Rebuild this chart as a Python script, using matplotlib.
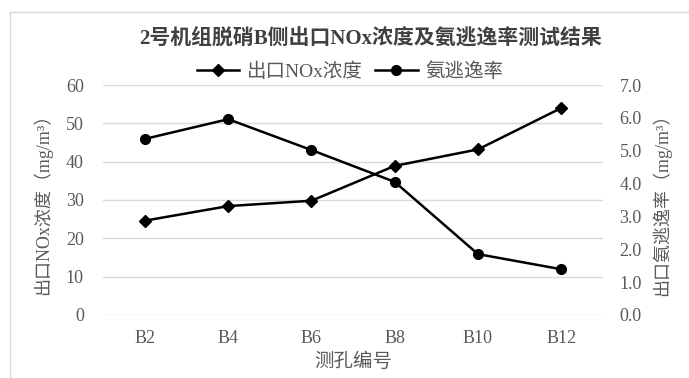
import matplotlib.pyplot as plt
from matplotlib.lines import Line2D

plt.rcParams['font.family'] = ['Liberation Serif', 'Noto Sans CJK SC', 'DejaVu Sans']

holes = ['B2', 'B4', 'B6', 'B8', 'B10', 'B12']
nox = [24.6, 28.4, 29.8, 38.9, 43.2, 54.0]
nh3_slip = [5.36, 5.96, 5.02, 4.05, 1.85, 1.39]
left_ticks = [0, 10, 20, 30, 40, 50, 60]
right_ticks = [0, 1, 2, 3, 4, 5, 6, 7]

grey = '#595959'

fig = plt.figure(figsize=(6.89, 3.78), dpi=100)
ax = fig.add_axes([0.150, 0.167, 0.725, 0.608])
ax2 = ax.twinx()

x = list(range(len(holes)))
l1, = ax.plot(x, nox, color='black', lw=1.8, marker='D', ms=6.5, label='出口NOx浓度')
l2, = ax2.plot(x, nh3_slip, color='black', lw=1.8, marker='o', ms=7, label='氨逃逸率')

ax.set_xlim(-0.5, len(holes) - 0.5)
ax.set_ylim(0, 60)
ax.set_yticks(left_ticks)
ax2.set_ylim(0, 7)
ax2.set_yticks(right_ticks)
ax2.set_yticklabels([f'{v:.1f}' for v in right_ticks])
ax.set_xticks(x)
ax.set_xticklabels(holes)

ax.grid(axis='y', color='#d9d9d9', lw=1)
ax.set_axisbelow(True)
for a in (ax, ax2):
    for s in a.spines.values():
        s.set_visible(False)
    a.tick_params(length=0, colors=grey, labelsize=13)
ax.tick_params(axis='y', pad=14)
ax.tick_params(axis='x', pad=11)
ax2.tick_params(axis='y', pad=12)

ax.set_ylabel('出口NOx浓度（mg/m³）', fontsize=13, color=grey, labelpad=10)
ax2.set_ylabel('出口氨逃逸率（mg/m³）', fontsize=13, color=grey, labelpad=7)
ax.set_xlabel('测孔编号', fontsize=14, color=grey, labelpad=4)

fig.text(0.538, 0.90, '2号机组脱硝B侧出口NOx浓度及氨逃逸率测试结果',
         fontsize=15, fontweight='bold', color='#404040', ha='center', va='center')

fig.legend([l1, l2], ['出口NOx浓度', '氨逃逸率'], loc='center', bbox_to_anchor=(0.508, 0.81),
           ncol=2, frameon=False, prop={'size': 14}, labelcolor=grey,
           handlelength=2.2, columnspacing=0.6, handletextpad=0.4)

# chart frame, partly cut off at right and bottom
fig.add_artist(Line2D([10 / 689, 1], [1 - 12 / 378, 1 - 12 / 378], color='#d9d9d9', lw=1))
fig.add_artist(Line2D([10 / 689, 10 / 689], [0, 1 - 12 / 378], color='#d9d9d9', lw=1))

fig.savefig('out.png', dpi=100)
